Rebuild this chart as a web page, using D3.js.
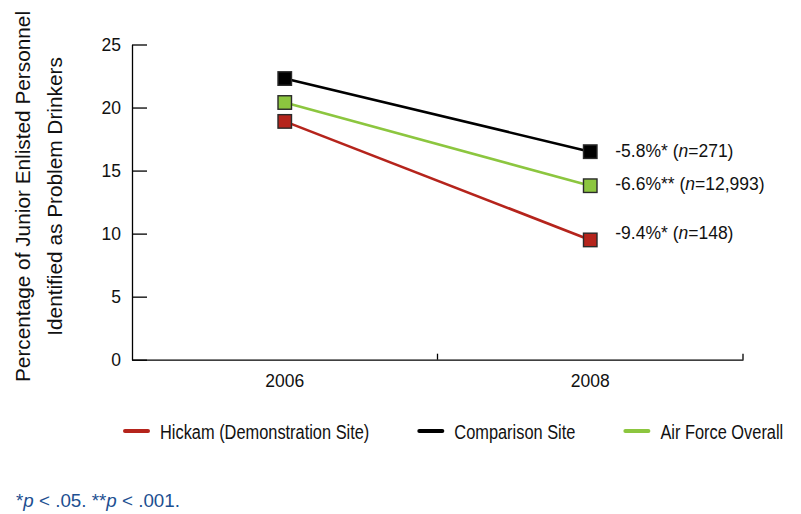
<!DOCTYPE html>
<html>
<head>
<meta charset="utf-8">
<script src="https://cdn.jsdelivr.net/npm/d3@7/dist/d3.min.js"></script>
<style>
  html, body { margin: 0; padding: 0; background: #fff; }
  svg { display: block; }
</style>
</head>
<body>
<div id="chart"></div>
<script>
// === DATA ===
const years = ["2006", "2008"];
const seriesNames = ["Hickam (Demonstration Site)", "Comparison Site", "Air Force Overall"];
const hickam = [18.9, 9.5];
const comparison = [22.3, 16.5];
const airForce = [20.4, 13.8];
const changeLabels = ["-9.4%", "-5.8%", "-6.6%"];
const starLabels = ["*", "*", "**"];
const nLabels = ["148", "271", "12,993"];
const yTicks = [0, 5, 10, 15, 20, 25];

// === LAYOUT ===
const W = 801, H = 514;
const plot = { left: 132, right: 743, top: 44.5, bottom: 359.7 };
const colors = ["#b5241c", "#000000", "#8cc63f"];
const labelNudge = [-7, 0, -1.5];   // small vertical tweaks for end labels
const sans = "'Liberation Sans', Arial, sans-serif";
const condense = 0.78;              // legend text is set in a condensed face

const series = seriesNames.map((name, i) => ({
  name,
  values: [hickam, comparison, airForce][i],
  color: colors[i],
  change: changeLabels[i],
  stars: starLabels[i],
  n: nLabels[i],
  nudge: labelNudge[i]
}));

const svg = d3.select("#chart").append("svg")
  .attr("width", W)
  .attr("height", H);

const x = d3.scaleBand().domain(years).range([plot.left, plot.right]).padding(0);
const y = d3.scaleLinear().domain([0, 25]).range([plot.bottom, plot.top]);
const cx = d => x(d) + x.bandwidth() / 2;

// === AXES ===
const yAxisG = svg.append("g")
  .attr("transform", `translate(${plot.left},0)`)
  .call(d3.axisLeft(y).tickValues(yTicks).tickSize(-15).tickSizeOuter(0).tickPadding(11));

yAxisG.selectAll("text")
  .style("font-family", sans)
  .style("font-size", "17.5px")
  .attr("fill", "#111");

const xAxisG = svg.append("g")
  .attr("transform", `translate(0,${plot.bottom})`)
  .call(d3.axisBottom(x).tickSize(0).tickSizeOuter(0).tickPadding(15));

xAxisG.selectAll("text")
  .style("font-family", sans)
  .style("font-size", "17.5px")
  .attr("fill", "#111");

// band boundary ticks pointing up
xAxisG.selectAll("line.bound")
  .data(years)
  .join("line")
  .attr("class", "bound")
  .attr("x1", d => x(d) + x.bandwidth())
  .attr("x2", d => x(d) + x.bandwidth())
  .attr("y1", 0)
  .attr("y2", -6)
  .attr("stroke", "#000");

svg.selectAll(".domain, .tick line, line.bound")
  .attr("stroke", "#000")
  .attr("stroke-width", 1.3);

// === Y TITLE ===
const titleLines = ["Percentage of Junior Enlisted Personnel", "Identified as Problem Drinkers"];
const titleBase = [30, 61.5];
svg.append("g")
  .selectAll("text")
  .data(titleLines)
  .join("text")
  .attr("transform", (d, i) => `translate(${titleBase[i]},196.5) rotate(-90)`)
  .attr("text-anchor", "middle")
  .style("font-family", sans)
  .style("font-size", "20.8px")
  .attr("fill", "#111")
  .text(d => d);

// === LINES & MARKERS ===
const line = d3.line()
  .x((v, i) => cx(years[i]))
  .y(v => y(v));

const sg = svg.append("g")
  .selectAll("g")
  .data(series)
  .join("g");

sg.append("path")
  .attr("d", d => line(d.values))
  .attr("fill", "none")
  .attr("stroke", d => d.color)
  .attr("stroke-width", 2.6);

const ms = 13.5;
sg.selectAll("rect")
  .data(d => d.values.map((v, i) => ({ v, year: years[i], color: d.color })))
  .join("rect")
  .attr("x", d => cx(d.year) - ms / 2)
  .attr("y", d => y(d.v) - ms / 2)
  .attr("width", ms)
  .attr("height", ms)
  .attr("fill", d => d.color)
  .attr("stroke", "#2a2a2a")
  .attr("stroke-width", 1.4);

// end labels
const endLabel = sg.append("text")
  .attr("x", cx(years[1]) + 25)
  .attr("y", d => y(d.values[1]) + d.nudge)
  .attr("dy", "0.32em")
  .style("font-family", sans)
  .style("font-size", "17.5px")
  .attr("fill", "#111");
endLabel.append("tspan").text(d => `${d.change}${d.stars} (`);
endLabel.append("tspan").style("font-style", "italic").text("n");
endLabel.append("tspan").text(d => `=${d.n})`);

// === LEGEND ===
const legend = svg.append("g").attr("transform", "translate(0,431)");
let lx = 125;
series.forEach(s => {
  const item = legend.append("g").attr("transform", `translate(${lx},0)`);
  item.append("line")
    .attr("x1", 0).attr("x2", 23)
    .attr("y1", 0).attr("y2", 0)
    .attr("stroke", s.color)
    .attr("stroke-width", 4)
    .attr("stroke-linecap", "round");
  // squeeze the label horizontally to mimic a condensed face
  const t = item.append("g")
    .attr("transform", `translate(35,0) scale(${condense},1)`)
    .append("text")
    .attr("dy", "0.36em")
    .style("font-family", sans)
    .style("font-size", "21px")
    .attr("fill", "#111")
    .text(s.name);
  const w = t.node().getComputedTextLength() * condense;
  lx += 35 + w + 50;
});

// === FOOTNOTE ===
const note = svg.append("text")
  .attr("x", 16)
  .attr("y", 507)
  .style("font-family", sans)
  .style("font-size", "18.8px")
  .attr("fill", "#1d4f91");
note.append("tspan").text("*");
note.append("tspan").style("font-style", "italic").text("p");
note.append("tspan").text(" < .05. **");
note.append("tspan").style("font-style", "italic").text("p");
note.append("tspan").text(" < .001.");
</script>
</body>
</html>
